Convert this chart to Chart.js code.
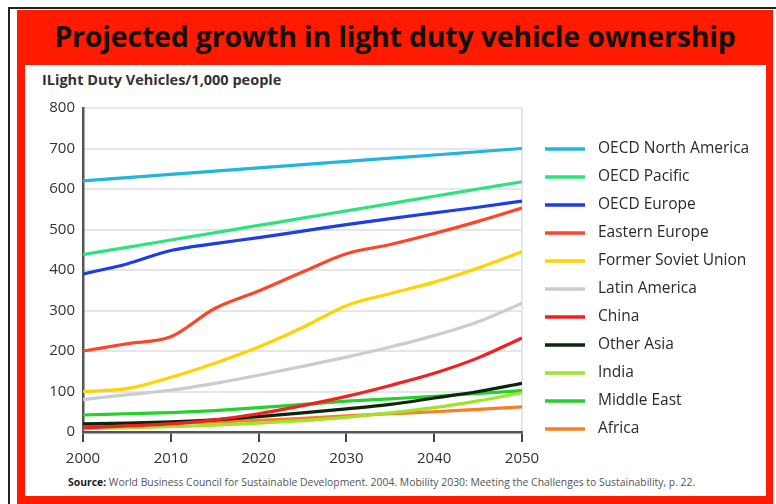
<!DOCTYPE html>
<html>
<head>
<meta charset="utf-8">
<script src="https://cdn.jsdelivr.net/npm/chart.js@4/dist/chart.umd.min.js"></script>
<style>
  html, body { margin: 0; padding: 0; background: #fff; }
  #page { position: relative; width: 776px; height: 504px; overflow: hidden; background: #fff; }
  #rule { position: absolute; left: 8px; top: 7px; width: 800px; height: 520px;
          border-left: 2px solid #222; border-top: 2px solid #222; }
  #frame { position: absolute; left: 17px; top: 10px; width: 756px; height: 494px; background: #ff1a00; }
  #inner { position: absolute; left: 25px; top: 65px; width: 741px; height: 431px; background: #fff; }
  #title { position: absolute; left: 17px; top: 17px; width: 756px; height: 48px; line-height: 40px;
           text-align: center; font: bold 28.5px "Open Sans", sans-serif; color: #111; letter-spacing: -0.2px; }
  #ylab { position: absolute; left: 42px; top: 70px; font: bold 14.5px "Open Sans", sans-serif; color: #333; }
  #source { position: absolute; left: 68px; top: 475px; font: 10.4px "Open Sans", sans-serif; color: #555; white-space: nowrap; }
  #source b { color: #222; }
  canvas { position: absolute; left: 0; top: 0; }
</style>
</head>
<body>
<div id="page">
  <div id="rule"></div>
  <div id="frame"></div>
  <div id="inner"></div>
  <div id="title">Projected growth in light duty vehicle ownership</div>
  <div id="ylab">ILight Duty Vehicles/1,000 people</div>
  <div id="source"><b>Source:</b> World Business Council for Sustainable Development. 2004. Mobility 2030: Meeting the Challenges to Sustainability, p. 22.</div>
  <canvas id="chart" width="776" height="504"></canvas>
</div>
<script>
// Years on the horizontal axis
const years = [2000, 2005, 2010, 2015, 2020, 2025, 2030, 2035, 2040, 2045, 2050];
const xTicks = [2000, 2010, 2020, 2030, 2040, 2050];
const yTicks = [0, 100, 200, 300, 400, 500, 600, 700, 800];

// Light duty vehicles per 1,000 people, by region
const oecdNorthAmerica = [620, 628, 636, 644, 652, 660, 668, 676, 684, 692, 700];
const oecdPacific      = [438, 456, 474, 492, 510, 528, 546, 564, 582, 600, 618];
const oecdEurope       = [390, 415, 448, 465, 480, 496, 512, 527, 541, 555, 570];
const easternEurope    = [200, 218, 235, 305, 348, 395, 440, 463, 490, 520, 553];
const formerSoviet     = [100, 107, 135, 170, 210, 258, 312, 342, 370, 405, 445];
const latinAmerica     = [80, 92, 103, 120, 140, 162, 185, 210, 238, 272, 318];
const china            = [10, 15, 20, 30, 45, 65, 88, 115, 145, 183, 232];
const otherAsia        = [20, 22, 25, 30, 38, 47, 57, 68, 84, 100, 120];
const india            = [8, 10, 13, 17, 22, 28, 36, 47, 60, 77, 97];
const middleEast       = [42, 45, 48, 53, 60, 68, 76, 82, 88, 95, 102];
const africa           = [15, 18, 21, 25, 29, 34, 40, 45, 50, 56, 62];

const regionNames = ['OECD North America', 'OECD Pacific', 'OECD Europe', 'Eastern Europe',
  'Former Soviet Union', 'Latin America', 'China', 'Other Asia', 'India', 'Middle East', 'Africa'];
const regionSeries = [oecdNorthAmerica, oecdPacific, oecdEurope, easternEurope, formerSoviet,
  latinAmerica, china, otherAsia, india, middleEast, africa];
const regionColors = ['#21b6dc', '#2de37c', '#1c3ee6', '#ff4526', '#ffd200', '#c9cdcd',
  '#f51e22', '#0b260c', '#9ee42a', '#22d22a', '#ff7c26'];

const datasets = regionNames.map((name, i) => ({
  label: name,
  data: years.map((yr, k) => ({ x: yr, y: regionSeries[i][k] })),
  borderColor: regionColors[i],
  backgroundColor: regionColors[i],
  borderWidth: 3.2,
  pointRadius: 0,
  cubicInterpolationMode: 'monotone',
  fill: false
}));

// Legend drawn beside the plot, one row per region
const sideLegend = {
  id: 'sideLegend',
  afterDraw(chart) {
    const ctx = chart.ctx;
    const area = chart.chartArea;
    const x0 = area.right + 23;
    const top = area.top + 41;
    const step = 28;
    ctx.save();
    ctx.font = '15.5px "Open Sans", sans-serif';
    ctx.textBaseline = 'middle';
    chart.data.datasets.forEach((ds, i) => {
      const y = top + i * step;
      ctx.strokeStyle = ds.borderColor;
      ctx.lineWidth = 3.5;
      ctx.beginPath();
      ctx.moveTo(x0, y);
      ctx.lineTo(x0 + 40, y);
      ctx.stroke();
      ctx.fillStyle = '#2a2a2a';
      ctx.fillText(ds.label, x0 + 53, y);
    });
    ctx.restore();
  }
};

new Chart(document.getElementById('chart'), {
  type: 'line',
  data: { datasets },
  plugins: [sideLegend],
  options: {
    responsive: false,
    animation: false,
    events: [],
    layout: { padding: { left: 33, right: 254, top: 108, bottom: 32 } },
    plugins: { legend: { display: false }, tooltip: { enabled: false }, title: { display: false } },
    scales: {
      x: {
        type: 'linear',
        min: years[0],
        max: years[years.length - 1],
        afterFit: s => { s.height = 40; },
        afterBuildTicks: s => { s.ticks = xTicks.map(v => ({ value: v })); },
        border: { display: true, color: '#555', width: 2.5 },
        grid: {
          drawOnChartArea: true,
          color: c => (c.tick && c.tick.value === xTicks[xTicks.length - 1] ? '#e3e7e7' : 'rgba(0,0,0,0)'),
          lineWidth: 2,
          tickColor: '#444',
          tickLength: 10,
          tickWidth: 2
        },
        ticks: {
          padding: 8,
          color: '#333',
          font: { family: 'Open Sans', size: 15 },
          callback: v => String(v),
          maxRotation: 0
        }
      },
      y: {
        min: yTicks[0],
        max: yTicks[yTicks.length - 1],
        afterFit: s => { s.width = 50; },
        afterBuildTicks: s => { s.ticks = yTicks.map(v => ({ value: v })); },
        border: { display: true, color: '#555', width: 2.5 },
        grid: { color: '#e3e7e7', lineWidth: 2, drawTicks: false },
        ticks: {
          padding: 8,
          color: '#333',
          font: { family: 'Open Sans', size: 15 }
        }
      }
    }
  }
});
</script>
</body>
</html>
